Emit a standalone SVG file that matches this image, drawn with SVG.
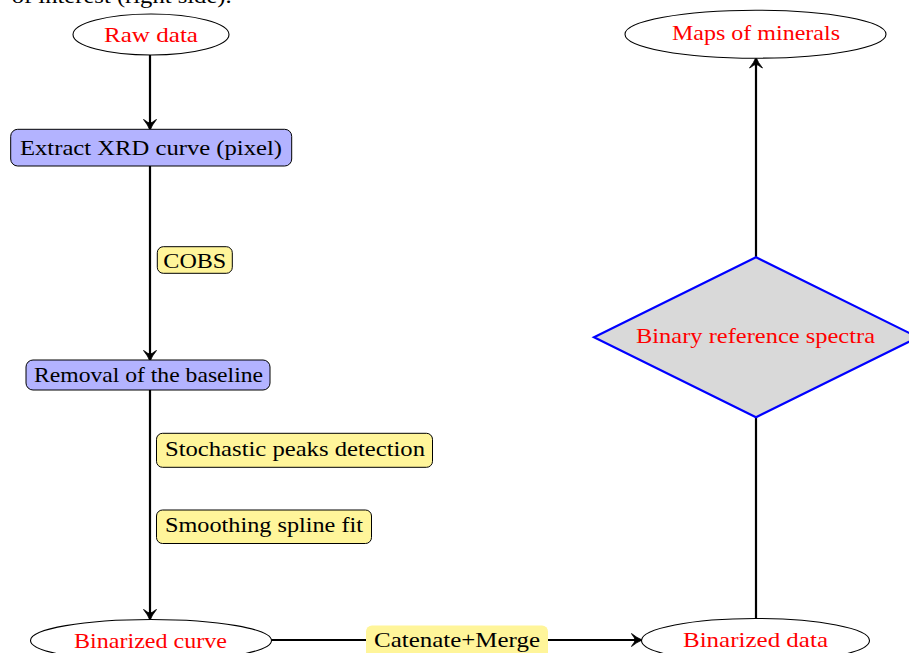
<svg xmlns="http://www.w3.org/2000/svg" width="909" height="653" viewBox="0 0 909 653">
<style>
  text { font-family: "Liberation Serif", "Times New Roman", serif; font-size: 22px; text-anchor: middle; }
  .red { fill: #ff0000; }
  .blk { fill: #000000; }
  .ell { fill: #ffffff; stroke: #000000; stroke-width: 1.1; }
  .proc { fill: #b3b3ff; stroke: #000000; stroke-width: 1; }
  .lbl { fill: #fff59a; stroke: #000000; stroke-width: 1; }
  .lbl-nb { fill: #fff59a; stroke: none; }
  .dec { fill: #d9d9d9; stroke: #0000ff; stroke-width: 2.2; }
  .conn { fill: none; stroke: #000000; stroke-width: 2.2; }
  .arr { marker-end: url(#head); }
</style>
<defs>
  <marker id="head" markerUnits="userSpaceOnUse" viewBox="-12 -8 14 16" refX="0" refY="0" markerWidth="14" markerHeight="16" orient="auto">
    <path d="M1.2,0 Q-4,-2 -9.5,-6.5 L-9,-5.5 Q-6,-1.8 -6,0 Q-6,1.8 -9,5.5 L-9.5,6.5 Q-4,2 1.2,0 Z" fill="#000000" stroke="#000000" stroke-width="0.8" stroke-linejoin="round"/>
  </marker>
</defs>
<rect x="0" y="0" width="909" height="653" fill="#ffffff"/>

<text class="blk" x="121.7" y="3" textLength="220" lengthAdjust="spacingAndGlyphs">of interest (right side).</text>

<g id="connectors">
  <path class="conn arr" d="M150,55 L150,129"/>
  <path class="conn arr" d="M150,166 L150,360"/>
  <path class="conn arr" d="M150,390 L150,619"/>
  <path class="conn arr" d="M271,640 L641,640"/>
  <path class="conn" d="M756,619 L756,417"/>
  <path class="conn arr" d="M756,257 L756,58.5"/>
</g>

<g id="edge-labels">
  <g id="label-cobs">
    <rect class="lbl" x="157.3" y="246.7" width="75" height="26.6" rx="6"/>
    <text class="blk" x="194.8" y="268.3" textLength="63" lengthAdjust="spacingAndGlyphs">COBS</text>
  </g>
  <g id="label-stochastic">
    <rect class="lbl" x="156.5" y="433.3" width="276" height="34" rx="6"/>
    <text class="blk" x="295" y="455.5" textLength="260" lengthAdjust="spacingAndGlyphs">Stochastic peaks detection</text>
  </g>
  <g id="label-smoothing">
    <rect class="lbl" x="156.5" y="510" width="215" height="33.5" rx="6"/>
    <text class="blk" x="264" y="531.5" textLength="198" lengthAdjust="spacingAndGlyphs">Smoothing spline fit</text>
  </g>
  <g id="label-catenate">
    <rect class="lbl-nb" x="366" y="625.5" width="182" height="34" rx="6"/>
    <text class="blk" x="457" y="647" textLength="166" lengthAdjust="spacingAndGlyphs">Catenate+Merge</text>
  </g>
</g>

<g id="raw-data">
  <ellipse class="ell" cx="151" cy="34.5" rx="78" ry="20.5"/>
  <text class="red" x="151" y="42" textLength="94" lengthAdjust="spacingAndGlyphs">Raw data</text>
</g>

<g id="extract-xrd">
  <rect class="proc" x="10.7" y="129.3" width="281" height="36.7" rx="7"/>
  <text class="blk" x="151" y="154.5" textLength="262" lengthAdjust="spacingAndGlyphs">Extract XRD curve (pixel)</text>
</g>

<g id="removal-baseline">
  <rect class="proc" x="26" y="360" width="244" height="30" rx="7"/>
  <text class="blk" x="148.5" y="382.3" textLength="229" lengthAdjust="spacingAndGlyphs">Removal of the baseline</text>
</g>

<g id="binarized-curve">
  <ellipse class="ell" cx="151" cy="640.5" rx="120.5" ry="21"/>
  <text class="red" x="150.5" y="647.5" textLength="153" lengthAdjust="spacingAndGlyphs">Binarized curve</text>
</g>

<g id="binarized-data">
  <ellipse class="ell" cx="755.5" cy="640.5" rx="114" ry="22"/>
  <text class="red" x="755.5" y="647" textLength="145" lengthAdjust="spacingAndGlyphs">Binarized data</text>
</g>

<g id="binary-reference-spectra">
  <polygon class="dec" points="756,257.3 594,337.3 756,417.3 918,337.3"/>
  <text class="red" x="755.5" y="342.5" textLength="239" lengthAdjust="spacingAndGlyphs">Binary reference spectra</text>
</g>

<g id="maps-of-minerals">
  <ellipse class="ell" cx="755.5" cy="34.2" rx="130.5" ry="24"/>
  <text class="red" x="756" y="40" textLength="168" lengthAdjust="spacingAndGlyphs">Maps of minerals</text>
</g>
</svg>
